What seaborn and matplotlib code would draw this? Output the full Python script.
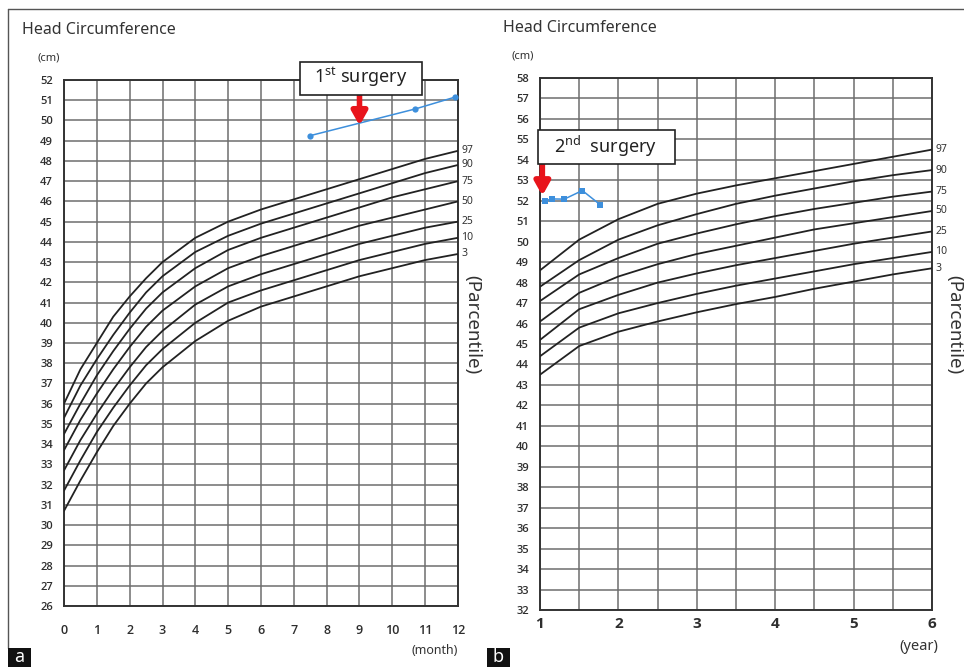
import matplotlib
matplotlib.use("Agg")
import matplotlib.pyplot as plt
import matplotlib.patches as mpatches
import seaborn as sns
import pandas as pd
import numpy as np

# ---------------- data ----------------
pct_labels = ["97", "90", "75", "50", "25", "10", "3"]

# panel a: 0-12 months
months = [0, 0.5, 1, 1.5, 2, 2.5, 3, 4, 5, 6, 7, 8, 9, 10, 11, 12]
a_p97 = [36.0, 37.7, 39.0, 40.3, 41.3, 42.2, 43.0, 44.2, 45.0, 45.6, 46.1, 46.6, 47.1, 47.6, 48.1, 48.5]
a_p90 = [35.3, 36.9, 38.2, 39.4, 40.5, 41.5, 42.3, 43.5, 44.3, 44.9, 45.4, 45.9, 46.4, 46.9, 47.4, 47.8]
a_p75 = [34.5, 36.0, 37.4, 38.6, 39.7, 40.7, 41.5, 42.7, 43.6, 44.2, 44.7, 45.2, 45.7, 46.2, 46.6, 47.0]
a_p50 = [33.7, 35.2, 36.5, 37.7, 38.8, 39.8, 40.6, 41.8, 42.7, 43.3, 43.8, 44.3, 44.8, 45.2, 45.6, 46.0]
a_p25 = [32.7, 34.2, 35.5, 36.7, 37.8, 38.8, 39.6, 40.9, 41.8, 42.4, 42.9, 43.4, 43.9, 44.3, 44.7, 45.0]
a_p10 = [31.7, 33.2, 34.6, 35.8, 36.9, 37.9, 38.7, 40.0, 41.0, 41.6, 42.1, 42.6, 43.1, 43.5, 43.9, 44.2]
a_p3 = [30.7, 32.2, 33.6, 34.9, 36.0, 37.0, 37.8, 39.1, 40.1, 40.8, 41.3, 41.8, 42.3, 42.7, 43.1, 43.4]

# patient, panel a
a_pt_month = [7.5, 10.7, 11.9]
a_pt_hc = [49.25, 50.57, 51.15]

# panel b: 1-6 years
years = [1, 1.5, 2, 2.5, 3, 3.5, 4, 4.5, 5, 5.5, 6]
b_p97 = [48.6, 50.1, 51.1, 51.85, 52.35, 52.75, 53.1, 53.45, 53.8, 54.15, 54.5]
b_p90 = [47.8, 49.1, 50.1, 50.8, 51.35, 51.85, 52.25, 52.6, 52.95, 53.25, 53.5]
b_p75 = [47.1, 48.4, 49.2, 49.9, 50.4, 50.85, 51.25, 51.6, 51.9, 52.2, 52.45]
b_p50 = [46.1, 47.5, 48.3, 48.9, 49.4, 49.8, 50.2, 50.6, 50.9, 51.2, 51.5]
b_p25 = [45.2, 46.7, 47.4, 48.0, 48.45, 48.85, 49.2, 49.55, 49.9, 50.2, 50.5]
b_p10 = [44.4, 45.8, 46.5, 47.0, 47.45, 47.85, 48.2, 48.55, 48.9, 49.2, 49.5]
b_p3 = [43.5, 44.9, 45.6, 46.1, 46.55, 46.95, 47.3, 47.7, 48.05, 48.4, 48.7]

# patient, panel b
b_pt_year = [1.06, 1.15, 1.31, 1.54, 1.77]
b_pt_hc = [51.99, 52.09, 52.08, 52.5, 51.8]

a_xticks = list(range(0, 13))
a_yticks = list(range(26, 53))
b_xticks = [1, 2, 3, 4, 5, 6]
b_yticks = list(range(32, 59))

# ---------------- style ----------------
sns.set_style("white")
plt.rcParams['font.family'] = ['Noto Sans', 'DejaVu Sans']

fig = plt.figure(figsize=(9.64, 6.67), dpi=100)
W, H = 964, 667

def fx(px):
    return px / W

def fy(py):
    return 1 - py / H

axA = fig.add_axes([fx(64), fy(606), fx(458) - fx(64), fy(80) - fy(606)])
axB = fig.add_axes([fx(540), fy(610), fx(932) - fx(540), fy(78) - fy(610)])

grid_col = "#6e6e6e"
curve_col = "#222222"
tick_col = "#2e2e2e"
bold_fam = ['Open Sans', 'DejaVu Sans']

def long_df(xs, series, xname):
    rows = []
    for lab, vals in zip(pct_labels, series):
        for x, v in zip(xs, vals):
            rows.append({xname: x, "hc": v, "pct": lab})
    return pd.DataFrame(rows)

dfA = long_df(months, [a_p97, a_p90, a_p75, a_p50, a_p25, a_p10, a_p3], "month")
dfB = long_df(years, [b_p97, b_p90, b_p75, b_p50, b_p25, b_p10, b_p3], "year")

sns.lineplot(data=dfA, x="month", y="hc", hue="pct", palette=[curve_col] * 7,
             legend=False, linewidth=1.3, ax=axA, zorder=3)
sns.lineplot(data=dfB, x="year", y="hc", hue="pct", palette=[curve_col] * 7,
             legend=False, linewidth=1.3, ax=axB, zorder=3)

# patient data
pt_col = "#3d8fdc"
sns.lineplot(x=a_pt_month, y=a_pt_hc, ax=axA, color=pt_col, linewidth=1.1,
             marker="o", markersize=4.5, markeredgewidth=0, zorder=5)
sns.lineplot(x=b_pt_year, y=b_pt_hc, ax=axB, color=pt_col, linewidth=1.1,
             marker="s", markersize=4.5, markeredgewidth=0, zorder=5)

# axes A
axA.set_xlim(0, 12)
axA.set_ylim(26, 52)
axA.set_xticks(a_xticks)
axA.set_yticks(a_yticks)
axA.set_xticklabels([str(v) for v in a_xticks], fontsize=9, color=tick_col,
                    family=bold_fam, fontweight="semibold")
axA.set_yticklabels([str(v) for v in a_yticks], fontsize=8, color=tick_col,
                    family=bold_fam, fontweight="semibold")
axA.tick_params(axis="x", length=0, pad=13)
axA.tick_params(axis="y", length=0, pad=8)
axA.grid(True, color=grid_col, linewidth=1.1)
axA.set_axisbelow(True)
axA.set_xlabel("")
axA.set_ylabel("")

# axes B
axB.set_xlim(1, 6)
axB.set_ylim(32, 58)
axB.set_xticks(b_xticks)
axB.set_xticks([1.5, 2.5, 3.5, 4.5, 5.5], minor=True)
axB.set_yticks(b_yticks)
axB.set_xticklabels([str(v) for v in b_xticks], fontsize=11, fontweight="bold",
                    color=tick_col, family=bold_fam)
axB.set_yticklabels([str(v) for v in b_yticks], fontsize=8, color=tick_col,
                    family=bold_fam, fontweight="semibold")
axB.tick_params(axis="x", which="both", length=0, pad=5)
axB.tick_params(axis="y", length=0, pad=8)
axB.grid(True, which="both", color=grid_col, linewidth=1.1)
axB.set_axisbelow(True)
axB.set_xlabel("")
axB.set_ylabel("")

for ax in (axA, axB):
    for s in ax.spines.values():
        s.set_visible(True)
        s.set_color("#333333")
        s.set_linewidth(1.4)

# percentile labels
for lab, vals in zip(pct_labels, [a_p97, a_p90, a_p75, a_p50, a_p25, a_p10, a_p3]):
    axA.text(12.1, vals[-1], lab, fontsize=7.5, color="#333333", va="center", ha="left",
             clip_on=False)
for lab, vals in zip(pct_labels, [b_p97, b_p90, b_p75, b_p50, b_p25, b_p10, b_p3]):
    axB.text(6.04, vals[-1], lab, fontsize=7.5, color="#333333", va="center", ha="left",
             clip_on=False)

# titles and units
fig.text(fx(22), fy(30), "Head Circumference", fontsize=11.5, color="#333333", va="center", ha="left")
fig.text(fx(503), fy(28), "Head Circumference", fontsize=11.5, color="#333333", va="center", ha="left")
fig.text(fx(38), fy(58), "(cm)", fontsize=8, color="#333333", va="center", ha="left")
fig.text(fx(512), fy(56), "(cm)", fontsize=8, color="#333333", va="center", ha="left")
fig.text(fx(472), fy(325), "(Parcentile)", fontsize=13.5, color="#333333", va="center", ha="center",
         rotation=270)
fig.text(fx(954), fy(325), "(Parcentile)", fontsize=13.5, color="#333333", va="center", ha="center",
         rotation=270)
fig.text(fx(458), fy(651), "(month)", fontsize=9, color="#333333", va="center", ha="right")
fig.text(fx(938), fy(646), "(year)", fontsize=10.5, color="#333333", va="center", ha="right")

# annotation boxes
fig.patches.append(mpatches.Rectangle((fx(300), fy(95)), fx(422) - fx(300), fy(62) - fy(95),
                                      transform=fig.transFigure, facecolor="white",
                                      edgecolor="#222222", linewidth=1.2, zorder=10))
fig.text(fx(361), fy(77), "1$^{\\mathregular{st}}$ surgery", fontsize=13, color="#222222",
         va="center", ha="center", zorder=11)
fig.patches.append(mpatches.Rectangle((fx(538), fy(164)), fx(675) - fx(538), fy(130) - fy(164),
                                      transform=fig.transFigure, facecolor="white",
                                      edgecolor="#222222", linewidth=1.2, zorder=10))
fig.text(fx(606), fy(146), "2$^{\\mathregular{nd}}$  surgery", fontsize=13, color="#222222",
         va="center", ha="center", zorder=11)

# red arrows
arrow_kw = dict(arrowstyle="-|>,head_length=0.8,head_width=0.45", color="#e8141b", lw=4.0,
                shrinkA=0, shrinkB=0)
axA.annotate("", xy=(9.0, 49.75), xytext=(9.0, 51.3), arrowprops=arrow_kw,
             annotation_clip=False, zorder=8)
axB.annotate("", xy=(1.03, 52.25), xytext=(1.03, 53.8), arrowprops=arrow_kw,
             annotation_clip=False, zorder=8)

# frame lines
fig.add_artist(plt.Line2D([fx(8), 1.0], [fy(9), fy(9)], transform=fig.transFigure,
                          color="#555555", linewidth=1.0))
fig.add_artist(plt.Line2D([fx(8), fx(8)], [fy(9), fy(648)], transform=fig.transFigure,
                          color="#555555", linewidth=1.0))

# panel letters
for x0, letter in [(8, "a"), (487, "b")]:
    fig.patches.append(mpatches.Rectangle((fx(x0), 0), fx(23), fy(648), transform=fig.transFigure,
                                          facecolor="#111111", edgecolor="none", zorder=10))
    fig.text(fx(x0 + 11.5), fy(657), letter, fontsize=13, color="white", va="center",
             ha="center", zorder=11)

fig.savefig("out.png", dpi=100)
